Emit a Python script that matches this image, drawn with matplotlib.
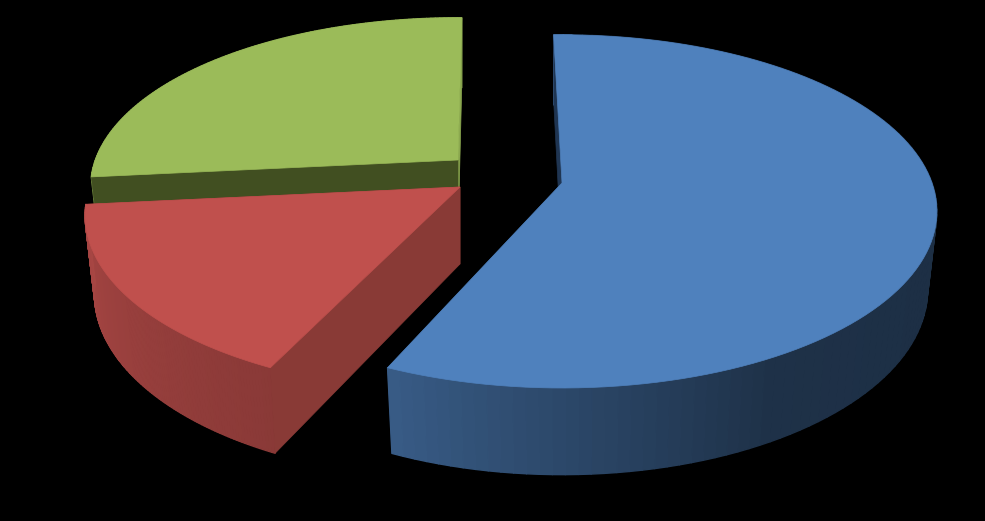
import numpy as np
import matplotlib
matplotlib.use("Agg")
import matplotlib.pyplot as plt
from matplotlib.collections import PolyCollection

# shares, clockwise from the top
names = ["blue", "red", "green"]
values = [57, 16.2, 26.8]
start_angle = -1.5

top_colors = ["#4f81bd", "#c0504d", "#9bbb59"]
front_cut_colors = ["#1f3552", "#893a36", "#414f21"]
back_cut_colors = ["#1f3552", "#893a36", "#8ba84f"]

# apex of every exploded slice in pixels, its size and its small turn
apex = [(562, 183), (460, 187), (458, 160)]
scale_x = [1.0, 1.0, 0.98]
scale_y = [1.0, 1.0, 0.96]
turn = [0, 2.3, 2.2]

R, S, K = 370.0, 172.0, 0.161   # perspective of the disc
DEPTH, SHRINK = 77.0, 0.975


def project(theta, i, low=False):
    cx, cy = apex[i]
    u = np.sin(np.radians(theta))
    v = np.cos(np.radians(theta))
    f = 1 + K * v
    x = R * u / f * scale_x[i]
    y = -S * v / f * scale_y[i]
    if low:
        return cx + x * SHRINK, cy + y * SHRINK + DEPTH / f
    return cx + x, cy + y


def shade(theta):
    return np.interp(((theta - 1) % 360) + 1, [100, 150, 175, 203, 264], [0.36, 0.38, 0.53, 0.71, 0.87])


fig = plt.figure(figsize=(9.85, 5.21), dpi=100, facecolor="black")
ax = fig.add_axes([0, 0, 1, 1])
ax.set_xlim(0, 985)
ax.set_ylim(521, 0)
ax.axis("off")

edges = start_angle + np.cumsum([0] + values) * 3.6

# back to front
for i in [2, 1, 0]:
    a0, a1 = edges[i] + turn[i], edges[i + 1] + turn[i]
    cx, cy = apex[i]
    angles = np.linspace(a0, a1, 120)
    xt, yt = project(angles, i)
    xb, yb = project(angles, i, low=True)
    lbx, lby = cx, cy + DEPTH

    # flat face at the end of the slice
    ax.fill([xt[-1], cx, lbx, xb[-1]], [yt[-1], cy, lby, yb[-1]], color=back_cut_colors[i], lw=0.5)
    # outer rim, one quad per step so the shade can change
    quads = []
    cols = []
    base = np.array(matplotlib.colors.to_rgb(top_colors[i]))
    for j in range(len(angles) - 1):
        quads.append([(xt[j], yt[j]), (xt[j + 1], yt[j + 1]), (xb[j + 1], yb[j + 1]), (xb[j], yb[j])])
        cols.append(base * shade(angles[j]))
    ax.add_collection(PolyCollection(quads, facecolors=cols, edgecolors=cols, linewidths=1.0))
    # flat face at the start of the slice
    ax.fill([xt[0], cx, lbx, xb[0]], [yt[0], cy, lby, yb[0]], color=front_cut_colors[i], lw=0.5)
    # top of the slice
    ax.fill(np.r_[cx, xt], np.r_[cy, yt], color=top_colors[i], lw=0.5)

fig.savefig("out.png", dpi=100, facecolor="black")
